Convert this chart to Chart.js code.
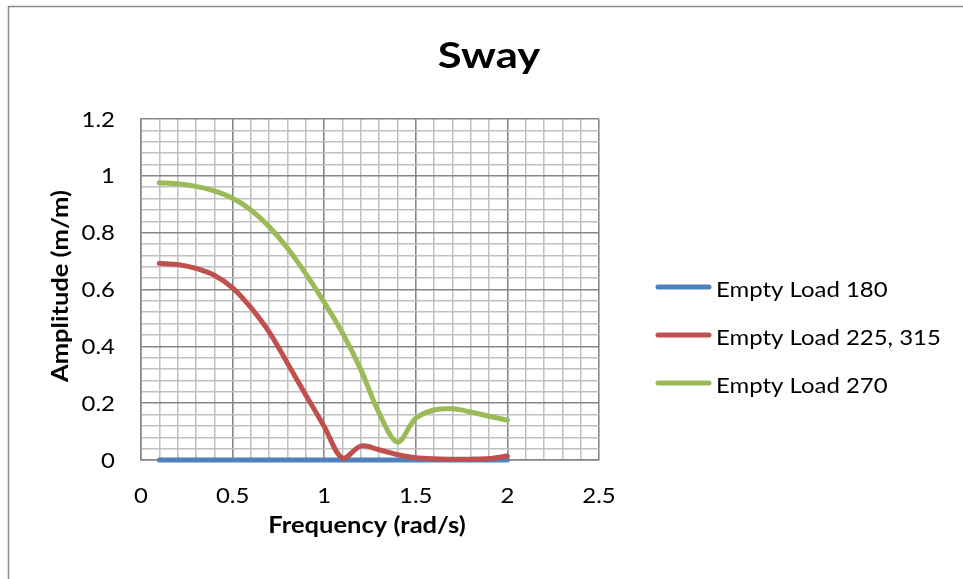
<!DOCTYPE html>
<html>
<head>
<meta charset="utf-8">
<script src="https://cdn.jsdelivr.net/npm/chart.js@4"></script>
<style>
  html, body { margin: 0; padding: 0; background: #ffffff; }
  canvas { display: block; }
</style>
</head>
<body>
<canvas id="sway" width="963" height="579"></canvas>
<script>
// Sway response amplitude vs wave frequency
const chartTitle = 'Sway';
const xAxisTitle = 'Frequency (rad/s)';
const yAxisTitle = 'Amplitude (m/m)';

const frequency = [0.1, 0.2, 0.3, 0.4, 0.5, 0.6, 0.7, 0.8, 0.9, 1.0,
                   1.1, 1.2, 1.3, 1.4, 1.5, 1.6, 1.7, 1.8, 1.9, 2.0];

const seriesNames = ['Empty Load 180', 'Empty Load 225, 315', 'Empty Load 270'];

const emptyLoad180 = [0, 0, 0, 0, 0, 0, 0, 0, 0, 0,
                      0, 0, 0, 0, 0, 0, 0, 0, 0, 0];
const emptyLoad225 = [0.692, 0.688, 0.674, 0.650, 0.606, 0.536, 0.450, 0.340, 0.228, 0.118,
                      0.006, 0.049, 0.036, 0.019, 0.008, 0.004, 0.003, 0.003, 0.005, 0.014];
const emptyLoad270 = [0.976, 0.972, 0.963, 0.947, 0.921, 0.880, 0.821, 0.745, 0.655, 0.555,
                      0.447, 0.318, 0.165, 0.063, 0.147, 0.176, 0.180, 0.169, 0.154, 0.140];

const xTicksMajor = [0, 0.5, 1, 1.5, 2, 2.5];
const yTicksMajor = [0, 0.2, 0.4, 0.6, 0.8, 1, 1.2];

const FONT = 'Lato, "Open Sans", sans-serif';
const colors = ['#4F81BD', '#C0504D', '#9BBB59'];
const values = [emptyLoad180, emptyLoad225, emptyLoad270];

function isMajor(v, list) {
  return list.some(m => Math.abs(m - v) < 1e-6);
}
function fmt(v) {
  return String(+v.toFixed(2));
}

const datasets = seriesNames.map((name, i) => ({
  label: name,
  data: frequency.map((f, k) => ({ x: f, y: values[i][k] })),
  borderColor: colors[i],
  backgroundColor: colors[i],
  borderWidth: 5,
  pointRadius: 0,
  tension: 0.33,
  fill: false,
  clip: 4,
  borderCapStyle: 'round',
  order: 3 - i
}));

// Text drawn with a slight horizontal widening of the face
function putText(ctx, str, x, y, align, font, sx, angle) {
  ctx.save();
  ctx.translate(x, y);
  if (angle) ctx.rotate(angle);
  ctx.scale(sx, 1);
  ctx.font = font;
  ctx.textAlign = align;
  ctx.textBaseline = 'alphabetic';
  ctx.fillStyle = '#000000';
  ctx.fillText(str, 0, 0);
  ctx.restore();
}

// Frame, title, tick labels, axis titles and legend
const decorations = {
  id: 'decorations',
  beforeDraw(chart) {
    const ctx = chart.ctx;
    ctx.save();
    ctx.fillStyle = '#ffffff';
    ctx.fillRect(0, 0, chart.width, chart.height);
    ctx.strokeStyle = '#8a8a8a';
    ctx.lineWidth = 1.5;
    ctx.beginPath();
    ctx.moveTo(8.5, chart.height + 2);
    ctx.lineTo(8.5, 6.5);
    ctx.lineTo(chart.width + 2, 6.5);
    ctx.stroke();
    ctx.restore();
  },
  afterDraw(chart) {
    const ctx = chart.ctx;
    const xs = chart.scales.x;
    const ys = chart.scales.y;
    const tickFont = '21px ' + FONT;

    xs.ticks.forEach(t => {
      if (!isMajor(t.value, xTicksMajor)) return;
      putText(ctx, fmt(t.value), xs.getPixelForValue(t.value), xs.top + 43, 'center', tickFont, 1.14);
    });
    ys.ticks.forEach(t => {
      if (!isMajor(t.value, yTicksMajor)) return;
      putText(ctx, fmt(t.value), ys.right - 26, ys.getPixelForValue(t.value) + 7.5, 'right', tickFont, 1.14);
    });

    putText(ctx, chartTitle, 489, 68, 'center', 'bold 36px ' + FONT, 1.21);
    putText(ctx, xAxisTitle, 367, 533, 'center', 'bold 22px ' + FONT, 1.16);
    putText(ctx, yAxisTitle, 68, 286, 'center', 'bold 22px ' + FONT, 1.16, -Math.PI / 2);

    chart.data.datasets.forEach((ds, i) => {
      const base = 297 + i * 48;
      ctx.save();
      ctx.strokeStyle = ds.borderColor;
      ctx.lineWidth = 5;
      ctx.lineCap = 'round';
      ctx.beginPath();
      ctx.moveTo(658, base - 10);
      ctx.lineTo(709, base - 10);
      ctx.stroke();
      ctx.restore();
      putText(ctx, ds.label, 716, base, 'left', tickFont, 1.14);
    });
  }
};

new Chart(document.getElementById('sway'), {
  type: 'line',
  data: { datasets },
  options: {
    responsive: false,
    animation: false,
    events: [],
    layout: { padding: { left: 0, top: 119, right: 364, bottom: 0 } },
    plugins: {
      legend: { display: false },
      title: { display: false },
      tooltip: { enabled: false }
    },
    scales: {
      x: {
        type: 'linear',
        min: 0,
        max: 2.5,
        afterFit(scale) { scale.height = 119; },
        border: { display: true, color: '#868686', width: 1.5 },
        grid: {
          drawTicks: false,
          color: c => isMajor(c.tick.value, xTicksMajor) ? '#868686' : '#c0c0c0',
          lineWidth: c => isMajor(c.tick.value, xTicksMajor) ? 1.6 : 1.5
        },
        ticks: {
          display: false,
          stepSize: 0.1,
          autoSkip: false
        }
      },
      y: {
        type: 'linear',
        min: 0,
        max: 1.2,
        afterFit(scale) { scale.width = 141; },
        border: { display: true, color: '#868686', width: 1.5 },
        grid: {
          drawTicks: false,
          color: c => isMajor(c.tick.value, yTicksMajor) ? '#868686' : '#c0c0c0',
          lineWidth: c => isMajor(c.tick.value, yTicksMajor) ? 1.6 : 1.5
        },
        ticks: {
          display: false,
          stepSize: 0.04,
          autoSkip: false
        }
      }
    }
  },
  plugins: [decorations]
});
</script>
</body>
</html>
